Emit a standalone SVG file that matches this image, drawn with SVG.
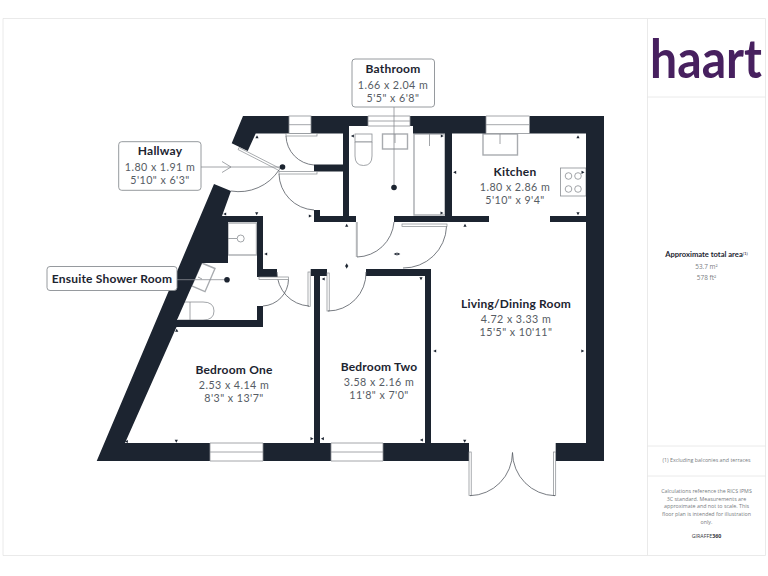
<svg xmlns="http://www.w3.org/2000/svg" width="768" height="576" viewBox="0 0 768 576">
<style>
.wall{fill:#1c2430}
.win{fill:#fff;stroke:#8d9196;stroke-width:.8}
.leaf{fill:#fff;stroke:#85898e;stroke-width:.7}
.arc{fill:none;stroke:#555b62;stroke-width:.8}
.fix{fill:#fff;stroke:#8a8e93;stroke-width:.8}
.fix2{fill:#fff;stroke:#a8abaf;stroke-width:1.4}
.ln{fill:none;stroke:#8a8e93;stroke-width:.8}
.tick{fill:#1c2430}
.box{fill:#fff;stroke:#8a8e93;stroke-width:.9}
.pan{fill:none;stroke:#e8e8e8;stroke-width:.9}
text{font-family:"Lato","Noto Sans",sans-serif;text-anchor:middle}
.t{font-size:12px;font-weight:700;fill:#1c2430;letter-spacing:.2px}
.d{font-size:10.700px;fill:#565c64;letter-spacing:.45px}
.p{font-family:"Open Sans","Noto Sans",sans-serif;font-size:5.300px;fill:#777b80}
</style>
<defs>
<path id="tk" class="tick" d="M-1.6,1.2H1.6L0,-1.8Z"/>
</defs>
<rect width="768" height="576" fill="#fff"/>
<g id="panel">
<path class="pan" d="M3,18.500H765.500V555.500H3ZM647.500,18.500V555.500M647.500,97H765.500M647.500,446H765.500M647.500,476H765.500"/>
<text transform="translate(650,78) scale(1,1.200)" x="0" y="0" textLength="112" lengthAdjust="spacingAndGlyphs" style="font-size:45px;fill:#47205f;font-weight:700;text-anchor:start">haart</text>
<text x="706.500" y="257" style="font-size:7.600px;font-weight:700;fill:#1c2430">Approximate total area<tspan dy="-2" style="font-size:4.500px;font-weight:400">(1)</tspan></text>
<text class="p" x="706.500" y="269" style="font-size:6.400px">53.7 m²</text>
<text class="p" x="706.500" y="280" style="font-size:6.400px">578 ft²</text>
<text class="p" x="706.500" y="462">(1) Excluding balconies and terraces</text>
<text class="p" x="706.500" y="493">Calculations reference the RICS IPMS</text>
<text class="p" x="706.500" y="500.500">3C standard. Measurements are</text>
<text class="p" x="706.500" y="508">approximate and not to scale. This</text>
<text class="p" x="706.500" y="516">floor plan is intended for illustration</text>
<text class="p" x="706.500" y="523.500">only.</text>
<text class="p" x="706.500" y="538" style="fill:#33373c">GIRAFFE<tspan font-weight="700">360</tspan></text>
</g>
<g id="fixtures">
<rect class="fix" x="355" y="134" width="17" height="8"/>
<path class="fix" d="M355,142V156Q355,165.500 363.500,165.500Q372,165.500 372,156V142Z"/>
<rect class="fix2" x="382.500" y="134" width="25" height="15"/>
<path class="ln" d="M395,134V143"/>
<rect class="fix2" x="414" y="134" width="31" height="81"/>
<path class="ln" d="M429.500,134V146"/>
<rect class="fix2" x="483" y="134" width="34.500" height="21"/>
<path class="ln" d="M500,134V144"/>
<rect class="fix" x="560.500" y="168" width="25.500" height="28"/>
<circle class="ln" cx="568.500" cy="176" r="3.300"/><circle class="ln" cx="578" cy="176" r="3.300"/><circle class="ln" cx="568.500" cy="189" r="3.300"/><circle class="ln" cx="578" cy="189" r="3.300"/>
<rect class="fix2" x="228" y="223" width="28.500" height="32"/>
<path class="ln" d="M228,238.500H237"/><circle class="ln" cx="240.700" cy="238.500" r="3.500"/>
<path class="fix2" d="M201.700,263L215,268.500L205,291.700L191.700,286Z"/>
<path class="ln" d="M198,277L202,279M182,302H203Q214,302 214,311Q214,320 203,320H178M190,302V320"/>
</g>
<g id="walls">
<polygon class="wall" points="243,116 289,116 289,133.500 255.700,133.500 247.700,151 231.700,143.300"/>
<polygon class="wall" points="311,116 368,116 368,126 349,126 349,216 356,216 356,222 314,222 314,210 320,210 320,216 343,216 343,171.500 314,171.500 314,164.500 343,164.500 343,133.500 311,133.500"/>
<polygon class="wall" points="410,116 486,116 486,133.500 452,133.500 452,216 489,216 489,222 394,222 394,216 445,216 445,133.500 413,133.500 413,126 410,126"/>
<polygon class="wall" points="529,116 604,116 604,461 555.700,461 555.700,443 586,443 586,222 550,222 550,216 586,216 586,133.500 529,133.500"/>
<polygon class="wall" points="214,184 231,191 222,216 263,216 263,269 277,269 277,277 257,277 257,222 228,222 228,263 202,263 177,320 257,320 257,306 263,306 263,327 176.500,327 125,443 210,443 210,461 96.700,461"/>
<polygon class="wall" points="263,443 314,443 314,276 310.700,276 310.700,269 327,269 327,276 320,276 320,443 331,443 331,461 263,461"/>
<polygon class="wall" points="383,443 425,443 425,276 366,276 366,269 431,269 431,443 469,443 469,461 383,461"/>
</g>
<g id="windows">
<rect class="win" x="289" y="116" width="22" height="17.500"/><path class="ln" d="M289,124.700H311"/>
<path class="win" d="M368,116H410V126H368ZM368,121H410"/>
<path class="win" d="M486,116H529.500V133.500H486ZM486,124.700H529.500"/>
<path class="win" d="M210,443H263V461H210ZM210,452H263"/>
<path class="win" d="M331,443H383V461H331ZM331,452H383"/>
</g>
<g id="doors">
<polygon class="leaf" points="239,147.500 280,168.500 279,170.500 238,149.500"/>
<path class="arc" d="M279,170A48,48 0 0 1 231,191"/>
<rect class="leaf" x="286" y="133.500" width="31" height="2.500"/><path class="arc" d="M286,136A30,30 0 0 0 314,165"/>
<rect class="leaf" x="279" y="171.500" width="38" height="2.500"/><path class="arc" d="M279,174A37,37 0 0 0 314,210"/>
<rect x="355.800" y="222" width="2" height="35" fill="#b5b7ba"/><path class="arc" d="M357,257A38,38 0 0 0 394,222"/>
<rect class="leaf" x="402" y="224" width="45" height="2.500"/><path class="arc" d="M446.500,226.500A43,43 0 0 1 403,268"/>
<rect class="leaf" x="327" y="273" width="2.200" height="38"/><path class="arc" d="M328,311A38,38 0 0 0 366,272"/>
<rect class="leaf" x="308" y="272" width="2.200" height="34.500"/><path class="arc" d="M309,306A34,34 0 0 1 277,272"/>
<rect class="leaf" x="259" y="277" width="29.500" height="2.500"/><path class="arc" d="M288.500,279.500A27,27 0 0 1 263,306"/>
<rect class="leaf" x="469" y="452" width="2.200" height="43.500"/><path class="arc" d="M470,495.700A43.500,43.500 0 0 0 512.500,452.500"/>
<rect class="leaf" x="553.500" y="452" width="2.200" height="43.500"/><path class="arc" d="M555,495.700A43.500,43.500 0 0 1 512.500,452.500"/>
</g>
<g id="ticks">
<use href="#tk" x="257" y="137"/><use href="#tk" x="346.700" y="225.500"/><use href="#tk" x="465" y="225.500"/><use href="#tk" x="176.700" y="330.500"/>
<use href="#tk" transform="translate(256.700,213.500) rotate(180)"/><use href="#tk" transform="translate(578,213.500) rotate(180)"/><use href="#tk" transform="translate(176.300,441) rotate(180)"/><use href="#tk" transform="translate(464.700,441) rotate(180)"/><use href="#tk" transform="translate(421,278.500) rotate(180)"/>
<use href="#tk" transform="translate(578,137)"/><use href="#tk" transform="translate(346.700,267) rotate(180)"/><use href="#tk" transform="translate(346.700,265)"/>
<use href="#tk" transform="translate(310,216) rotate(90)"/><use href="#tk" transform="translate(225,214) rotate(-90)"/><use href="#tk" transform="translate(352.700,136) rotate(-90)"/><use href="#tk" transform="translate(442,136) rotate(90)"/><use href="#tk" transform="translate(455,172.300) rotate(-90)"/><use href="#tk" transform="translate(582.700,172.300) rotate(90)"/><use href="#tk" transform="translate(441.700,213) rotate(90)"/><use href="#tk" transform="translate(266,254) rotate(-90)"/>
<use href="#tk" transform="translate(395.500,254) rotate(-90)"/><use href="#tk" transform="translate(398.500,254) rotate(90)"/>
<use href="#tk" transform="translate(126.700,441.500) rotate(-90)"/><use href="#tk" transform="translate(311.700,438.700) rotate(90)"/><use href="#tk" transform="translate(322.700,438.700) rotate(-90)"/><use href="#tk" transform="translate(421.700,440) rotate(-90)"/>
<use href="#tk" transform="translate(323.500,279) rotate(-90)"/><use href="#tk" transform="translate(435,351) rotate(-90)"/><use href="#tk" transform="translate(582.500,351) rotate(90)"/>
</g>
<g id="room-kitchen"><text class="t" x="515" y="176">Kitchen</text><text class="d" x="515" y="191">1.80 x 2.86 m</text><text class="d" x="515" y="204">5'10" x 9'4"</text></g>
<g id="room-living"><text class="t" x="516" y="308">Living/Dining Room</text><text class="d" x="516" y="323">4.72 x 3.33 m</text><text class="d" x="516" y="336">15'5" x 10'11"</text></g>
<g id="room-bed1"><text class="t" x="234" y="374">Bedroom One</text><text class="d" x="234" y="389">2.53 x 4.14 m</text><text class="d" x="234" y="402">8'3" x 13'7"</text></g>
<g id="room-bed2"><text class="t" x="379" y="371">Bedroom Two</text><text class="d" x="379" y="386">3.58 x 2.16 m</text><text class="d" x="379" y="399">11'8" x 7'0"</text></g>
<g id="connectors">
<path class="ln" d="M201,167H282M222,161.500L231,167L222,172.500"/>
<path class="ln" d="M394,107V187"/>
<path class="ln" d="M177,279.700H227"/>
<circle class="tick" cx="282.500" cy="167" r="2.800"/><circle class="tick" cx="394" cy="187.500" r="2.800"/><circle class="tick" cx="227" cy="279.700" r="2.800"/>
</g>
<g id="label-hallway"><rect class="box" x="118.700" y="141.700" width="82.300" height="48.600" rx="3"/><text class="t" x="160" y="155">Hallway</text><text class="d" x="160" y="171">1.80 x 1.91 m</text><text class="d" x="160" y="184">5'10" x 6'3"</text></g>
<g id="label-bathroom"><rect class="box" x="352" y="59" width="82.500" height="48" rx="3"/><text class="t" x="393" y="73">Bathroom</text><text class="d" x="393" y="89">1.66 x 2.04 m</text><text class="d" x="393" y="102">5'5" x 6'8"</text></g>
<g id="label-ensuite"><rect class="box" x="47" y="266.500" width="130" height="24" rx="3"/><text class="t" x="112" y="283">Ensuite Shower Room</text></g>
</svg>
